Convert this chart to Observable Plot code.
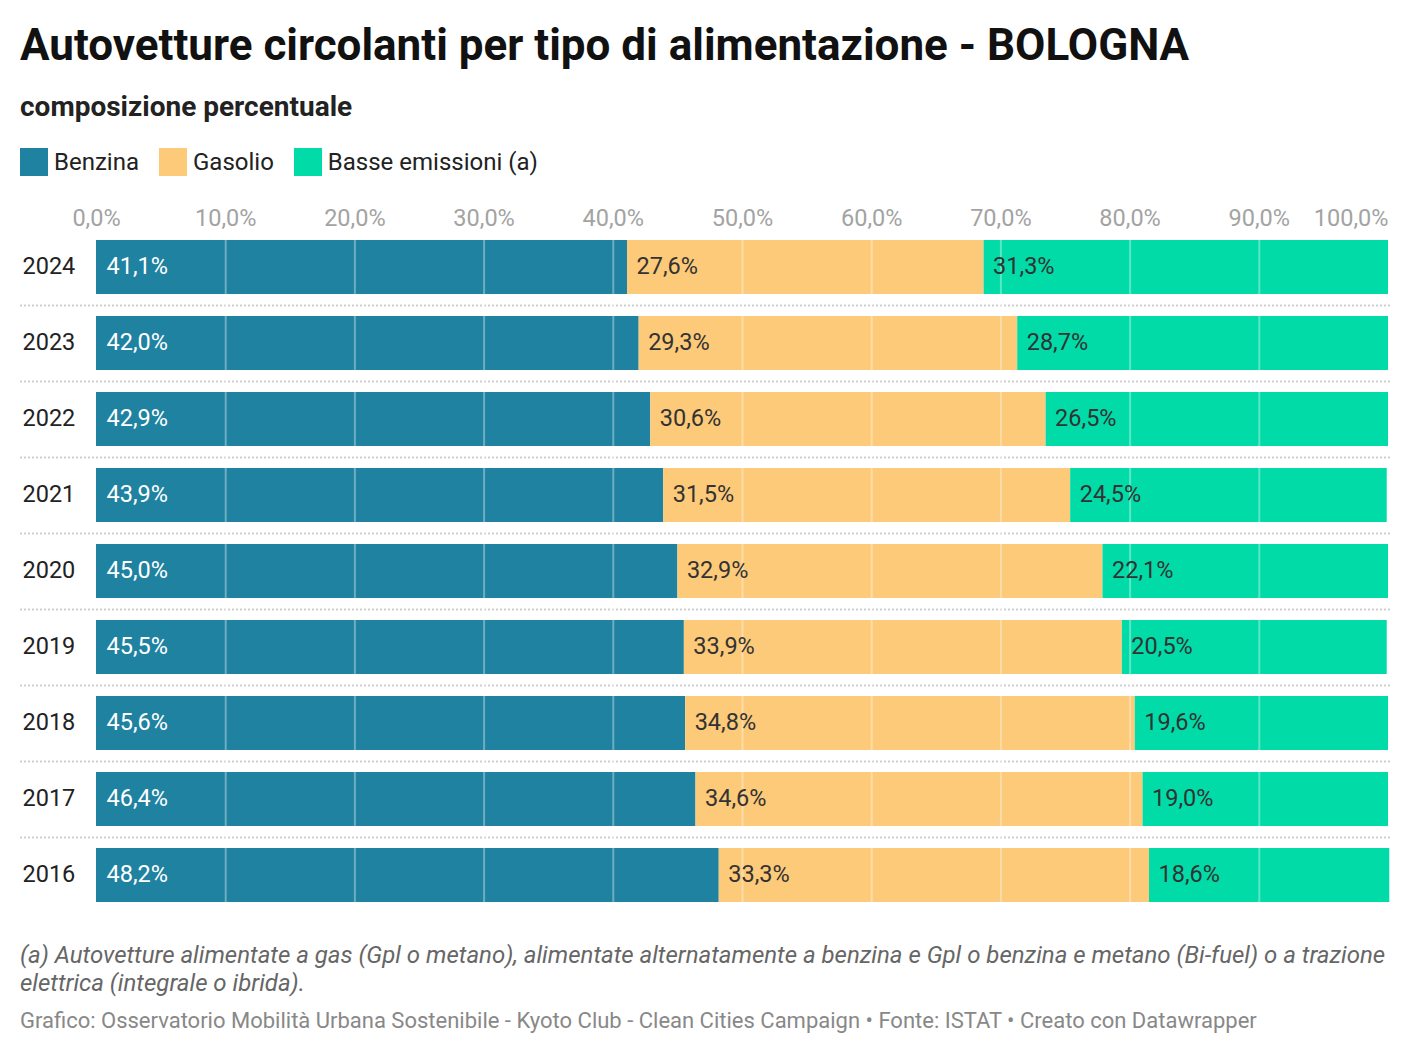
<!DOCTYPE html>
<html>
<head>
<meta charset="utf-8">
<script src="https://cdn.jsdelivr.net/npm/d3@7"></script>
<script src="https://cdn.jsdelivr.net/npm/@observablehq/plot@0.6"></script>
<style>
  html, body { margin: 0; padding: 0; background: #fff; }
  body { width: 1412px; height: 1054px; position: relative; font-family: Roboto, "Noto Sans", sans-serif; color: #1d1d1d; }
  #title { position: absolute; left: 20px; top: 19px; font-size: 44px; font-weight: 700; line-height: 52px; color: #111; white-space: nowrap; }
  #subtitle { position: absolute; left: 20px; top: 91px; font-size: 28px; font-weight: 700; line-height: 32px; color: #222; }
  #legend { position: absolute; left: 20px; top: 146px; display: flex; align-items: center; font-size: 24px; line-height: 32px; color: #222; }
  .item { display: flex; align-items: center; margin-right: 20px; }
  .sw { width: 28px; height: 28px; margin-right: 6px; }
  #chart { position: absolute; left: 0; top: 195px; }
  #note { position: absolute; left: 20px; top: 941px; width: 1380px; font-size: 24px; font-style: italic; line-height: 28px; color: #666; }
  #credit { position: absolute; left: 20px; top: 1007px; font-size: 22px; line-height: 28px; color: #888; white-space: nowrap; }
</style>
</head>
<body>
<div id="title">Autovetture circolanti per tipo di alimentazione - BOLOGNA</div>
<div id="subtitle">composizione percentuale</div>
<div id="legend"></div>
<div id="chart"></div>
<div id="note">(a) Autovetture alimentate a gas (Gpl o metano), alimentate alternatamente a benzina e Gpl o benzina e metano (Bi-fuel) o a trazione elettrica (integrale o ibrida).</div>
<div id="credit">Grafico: Osservatorio Mobilità Urbana Sostenibile - Kyoto Club - Clean Cities Campaign • Fonte: ISTAT • Creato con Datawrapper</div>
<script>
const years = ["2024", "2023", "2022", "2021", "2020", "2019", "2018", "2017", "2016"];
const types = ["Benzina", "Gasolio", "Basse emissioni (a)"];
const colors = ["#1f82a0", "#fdca79", "#00dba8"];
const benzina = [41.1, 42.0, 42.9, 43.9, 45.0, 45.5, 45.6, 46.4, 48.2];
const gasolio = [27.6, 29.3, 30.6, 31.5, 32.9, 33.9, 34.8, 34.6, 33.3];
const basse   = [31.3, 28.7, 26.5, 24.5, 22.1, 20.5, 19.6, 19.0, 18.6];
const tickValues = [0, 10, 20, 30, 40, 50, 60, 70, 80, 90, 100];

const series = [benzina, gasolio, basse];
const fmt = v => v.toFixed(1).replace(".", ",") + "%";

// build table (stacked start positions derived from values)
const rows = [];
years.forEach((y, i) => {
  let start = 0;
  types.forEach((t, j) => {
    const v = series[j][i];
    rows.push({year: y, type: t, value: v, start, end: start + v});
    start += v;
  });
});

// legend
const legend = document.getElementById("legend");
types.forEach((t, j) => {
  const it = document.createElement("div");
  it.className = "item";
  it.innerHTML = `<div class="sw" style="background:${colors[j]}"></div><span>${t}</span>`;
  legend.appendChild(it);
});

const chart = Plot.plot({
  width: 1412,
  height: 718,
  marginLeft: 96,
  marginRight: 24,
  marginTop: 34,
  marginBottom: 0,
  style: {fontFamily: "Roboto, sans-serif", background: "transparent"},
  x: {domain: [0, 100], axis: null},
  y: {domain: years, axis: null, paddingInner: 0.29, paddingOuter: 0.145},
  color: {domain: types, range: colors},
  marks: [
    Plot.ruleY(years.slice(0, -1), {y: d => d, dy: 38, stroke: "#cfcfcf", strokeWidth: 2, strokeDasharray: "2,2", insetLeft: -76, insetRight: -2}),
    Plot.barX(rows, {x1: "start", x2: "end", y: "year", fill: "type"}),
    Plot.ruleX(tickValues.slice(1, -1), {x: d => d, stroke: "white", strokeOpacity: 0.35, strokeWidth: 2}),
    Plot.text(rows.filter(d => d.type === "Benzina"), {x: "start", y: "year", text: d => fmt(d.value), textAnchor: "start", dx: 10, dy: -1, fill: "white", fontSize: 23.5}),
    Plot.text(rows.filter(d => d.type !== "Benzina"), {x: "start", y: "year", text: d => fmt(d.value), textAnchor: "start", dx: 9, dy: -1, fill: "#333", fontSize: 23.5}),
    Plot.text(years, {y: d => d, text: d => d, frameAnchor: "left", dx: -74, dy: -1, textAnchor: "start", fill: "#222", fontSize: 23.5}),
    Plot.text(tickValues.slice(0, -1), {x: d => d, text: d => fmt(d), frameAnchor: "top", dy: -20, fill: "#a3a3a3", fontSize: 23.5}),
    Plot.text(tickValues.slice(-1), {x: d => d, text: d => fmt(d), frameAnchor: "top", dy: -20, textAnchor: "end", fill: "#a3a3a3", fontSize: 23.5})
  ]
});
document.getElementById("chart").appendChild(chart);
</script>
</body>
</html>
